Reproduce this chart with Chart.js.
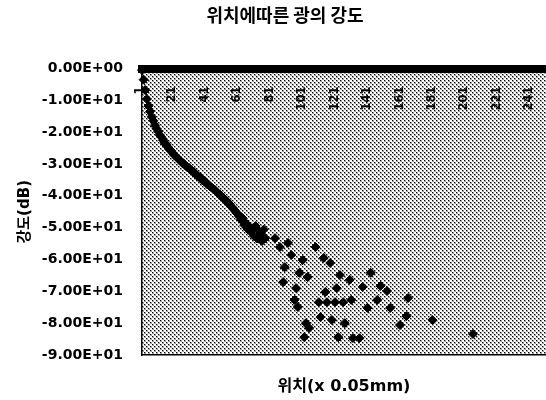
<!DOCTYPE html>
<html>
<head>
<meta charset="utf-8">
<script src="https://cdn.jsdelivr.net/npm/chart.js@4/dist/chart.umd.min.js"></script>
<style>
  html, body { margin: 0; padding: 0; background: #fff; }
  canvas { display: block; }
</style>
</head>
<body>
<canvas id="chart" width="546" height="400"></canvas>
<script>
// Positions along the probe (category index, step 0.05 mm)
const categoryCount = 250;
const categories = Array.from({ length: categoryCount }, (_, i) => String(i + 1));

// Labels written along the top axis, inside the plot
const xTickLabels = ['1', '21', '41', '61', '81', '101', '121', '141', '161', '181', '201', '221', '241'];

// Y ticks (dB)
const yTickValues = [0, -10, -20, -30, -40, -50, -60, -70, -80, -90];

// Continuous decay, positions 1..77 (dB)
const nearField = [
  -0.5, -3.5, -6.8, -9.6, -11.8, -13.5, -15.2, -16.4, -17.8, -18.9,
  -19.8, -20.9, -21.6, -22.5, -23.4, -23.9, -24.7, -25.5, -25.9, -26.6,
  -27.3, -27.6, -28.3, -28.7, -29.1, -29.8, -30.0, -30.6, -31.0, -31.2,
  -31.9, -32.3, -32.5, -33.2, -33.6, -34.0, -34.2, -35.0, -35.3, -35.5,
  -36.3, -36.6, -37.0, -37.4, -37.9, -38.2, -38.8, -39.3, -39.6, -40.3,
  -40.6, -41.2, -41.5, -42.3, -42.6, -43.4, -43.8, -44.5, -45.3, -45.6,
  -46.5, -47.4, -47.0, -49.2, -48.6, -50.4, -49.8, -51.3, -50.2, -52.6,
  -49.5, -53.4, -51.0, -51.7, -54.2, -50.6, -53.3
];

// Scattered far-field readings: position and intensity (dB)
const farPositions = [
  83, 86, 88, 89, 91, 93, 95, 96, 97, 98,
  100, 101, 102, 103, 104, 108, 110, 111, 113, 114,
  115, 117, 118, 120, 121, 122, 123, 125, 126, 129,
  130, 131, 135, 137, 140, 142, 146, 148, 152, 154,
  160, 164, 165, 180, 205
];
const farValues = [
  -53.3, -56.1, -67.1, -62.4, -54.8, -58.6, -72.7, -69.0, -74.9, -64.2,
  -60.2, -84.4, -80.0, -65.5, -81.5, -56.1, -73.4, -78.1, -59.5, -70.2,
  -73.4, -61.1, -79.0, -73.4, -69.0, -84.4, -64.9, -73.4, -80.0, -66.4,
  -72.7, -84.7, -84.7, -68.6, -75.2, -64.2, -72.7, -68.3, -69.9, -75.2,
  -80.6, -77.8, -72.1, -79.0, -83.4
];

// One value per category (null where nothing was measured)
const intensity = categories.map(() => null);
nearField.forEach((v, i) => { intensity[i] = v; });
farPositions.forEach((p, i) => { intensity[p - 1] = farValues[i]; });

const latinFont = '"DejaVu Sans", "Noto Sans CJK KR", sans-serif';
const hangulFont = '"Noto Sans CJK KR", "DejaVu Sans", sans-serif';

function formatE(v) {
  if (v === 0) return '0.00E+00';
  const parts = v.toExponential(2).split('e');
  const n = Number(parts[1]);
  return parts[0] + 'E' + (n < 0 ? '-' : '+') + String(Math.abs(n)).padStart(2, '0');
}

// Halftone fill for the plot area
const tile = document.createElement('canvas');
tile.width = 4; tile.height = 4;
(function () {
  const t = tile.getContext('2d');
  [[0, 0], [2, 2]].forEach(([px, py]) => {
    t.fillStyle = '#000';
    t.fillRect(px, py, 1, 1);
    t.fillStyle = 'rgba(0,0,0,0.38)';
    t.fillRect(px + 1, py, 1, 1);
    t.fillRect(px, py + 1, 1, 1);
    t.fillRect(px + 1, py + 1, 1, 1);
  });
})();

const plotBackground = {
  id: 'plotBackground',
  beforeDraw(chart) {
    const { ctx, chartArea: a } = chart;
    ctx.save();
    ctx.fillStyle = ctx.createPattern(tile, 'repeat');
    ctx.fillRect(a.left, a.top, a.right - a.left, a.bottom - a.top);
    ctx.restore();
  }
};

// Category labels sit just under the top axis line, rotated
const insideCategoryLabels = {
  id: 'insideCategoryLabels',
  beforeDatasetsDraw(chart) {
    const { ctx, chartArea } = chart;
    const xs = chart.scales.x;
    ctx.save();
    ctx.font = 'bold 11.5px ' + latinFont;
    ctx.fillStyle = '#000';
    ctx.textAlign = 'right';
    ctx.textBaseline = 'middle';
    xTickLabels.forEach(lbl => {
      const px = xs.getPixelForValue(categories.indexOf(lbl));
      ctx.save();
      ctx.translate(px - 2, chartArea.top + 18);
      ctx.rotate(-Math.PI / 2);
      ctx.fillText(lbl, 0, 0);
      ctx.restore();
    });
    ctx.restore();
  }
};

// Horizontal axes carry no tick labels, so they need no side padding
function flatAxis(height) {
  return function (s) {
    s.height = height;
    s.paddingLeft = 0;
    s.paddingRight = 0;
  };
}

new Chart(document.getElementById('chart'), {
  type: 'line',
  data: {
    labels: categories,
    datasets: [{
      label: '강도',
      data: intensity,
      showLine: false,
      pointStyle: 'rectRot',
      pointRadius: 4.5,
      pointBorderWidth: 1,
      pointBackgroundColor: '#000',
      pointBorderColor: '#000',
      clip: false
    }]
  },
  options: {
    responsive: false,
    animation: false,
    devicePixelRatio: 1,
    layout: { autoPadding: false, padding: { left: 24, right: 0, top: 0, bottom: 0 } },
    plugins: {
      legend: { display: false },
      tooltip: { enabled: false },
      title: {
        display: true,
        text: '위치에따른 광의 강도',
        color: '#000',
        font: { family: hangulFont, size: 18, weight: 'bold' },
        padding: { top: 4.5, bottom: 42.4 }
      }
    },
    scales: {
      x: {
        type: 'category',
        position: 'top',
        afterFit: flatAxis(0),
        ticks: { display: false },
        grid: { display: false, drawTicks: false },
        border: { display: true, color: '#000', width: 8 }
      },
      x2: {
        type: 'category',
        position: 'bottom',
        afterFit: flatAxis(45),
        ticks: { display: false },
        grid: { display: false, drawTicks: false },
        border: { display: true, color: '#000', width: 1.5 },
        title: {
          display: true,
          text: '위치(x 0.05mm)',
          color: '#000',
          font: { family: latinFont, size: 16, weight: 'bold' },
          padding: { top: 0, bottom: 4 }
        }
      },
      y: {
        min: yTickValues[yTickValues.length - 1],
        max: yTickValues[0],
        afterFit(s) { s.width = 118; s.paddingTop = 0; s.paddingBottom = 0; },
        afterBuildTicks(s) { s.ticks = yTickValues.map(v => ({ value: v })); },
        ticks: {
          padding: 19,
          color: '#000',
          font: { family: latinFont, size: 14, weight: 'bold' },
          callback: v => formatE(v)
        },
        grid: { display: false, drawTicks: false },
        border: { display: true, color: '#000', width: 1.5 },
        title: {
          display: true,
          text: '강도(dB)',
          color: '#000',
          font: { family: latinFont, size: 15, weight: 'bold' },
          padding: { top: -8, bottom: 0 }
        }
      }
    }
  },
  plugins: [plotBackground, insideCategoryLabels]
});
</script>
</body>
</html>
